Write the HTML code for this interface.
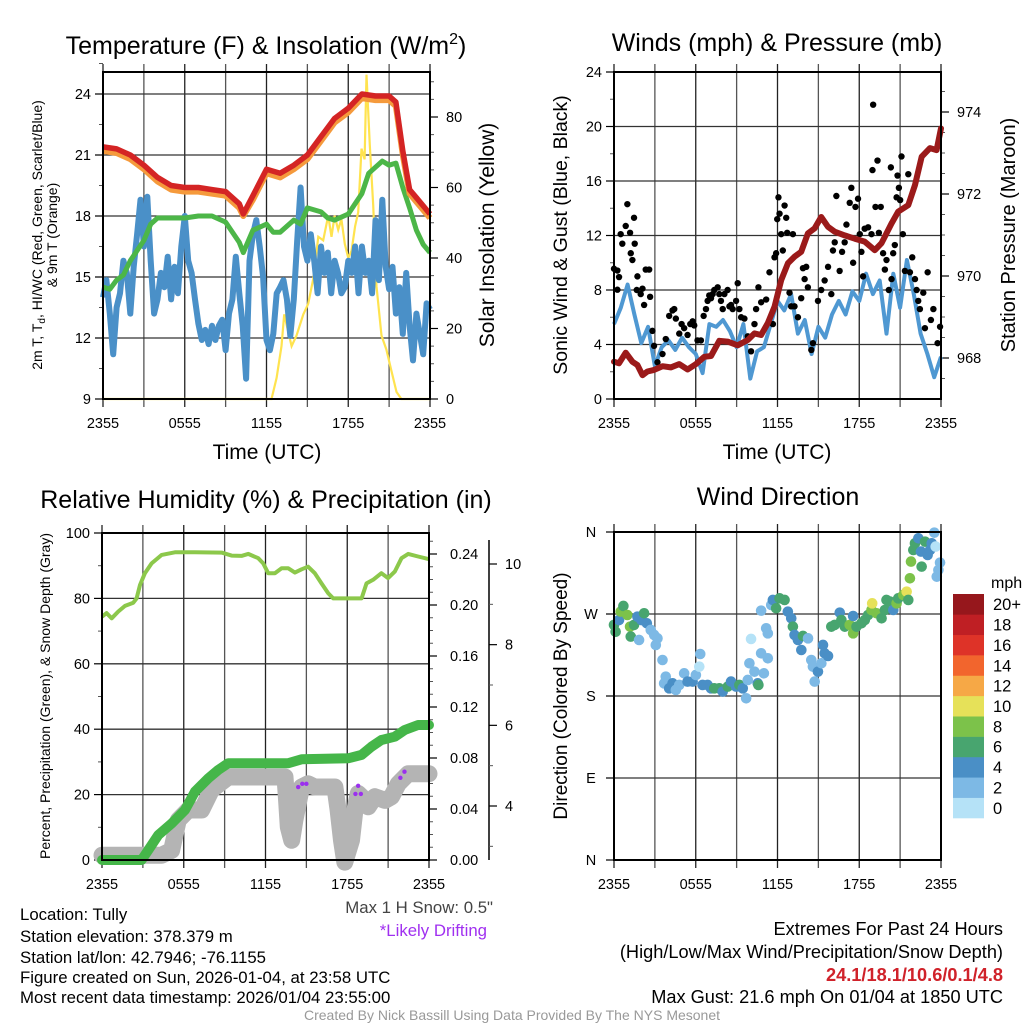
<!DOCTYPE html>
<html><head><meta charset="utf-8"><style>
html,body{margin:0;padding:0;background:#fff;}
svg{display:block;font-family:"Liberation Sans",Arial,sans-serif;}
</style></head><body>
<svg id="fig" width="1024" height="1024" viewBox="0 0 1024 1024" xmlns="http://www.w3.org/2000/svg">
<rect x="0" y="0" width="1024" height="1024" fill="#fff"/>
<!-- Titles -->
<text x="266" y="54" font-size="25" text-anchor="middle">Temperature (F) &amp; Insolation (W/m<tspan font-size="16" dy="-10">2</tspan><tspan dy="10">)</tspan></text>
<text x="777" y="51" font-size="25" text-anchor="middle">Winds (mph) &amp; Pressure (mb)</text>
<text x="266" y="508" font-size="25" text-anchor="middle">Relative Humidity (%) &amp; Precipitation (in)</text>
<text x="778" y="505" font-size="25" text-anchor="middle">Wind Direction</text>
<!-- axis titles -->
<text x="267" y="459" font-size="21" text-anchor="middle">Time (UTC)</text>
<text x="777" y="459" font-size="21" text-anchor="middle">Time (UTC)</text>
<text transform="translate(42,235) rotate(-90)" font-size="14" text-anchor="middle">2m T, T<tspan font-size="10" dy="3">d</tspan><tspan dy="-3">, HI/WC (Red, Green, Scarlet/Blue)</tspan></text>
<text transform="translate(57,235) rotate(-90)" font-size="14" text-anchor="middle">&amp; 9m T (Orange)</text>
<text transform="translate(494,235) rotate(-90)" font-size="21" text-anchor="middle">Solar Insolation (Yellow)</text>
<text transform="translate(567,235) rotate(-90)" font-size="19.5" text-anchor="middle">Sonic Wind &amp; Gust (Blue, Black)</text>
<text transform="translate(1015,235) rotate(-90)" font-size="20" text-anchor="middle">Station Pressure (Maroon)</text>
<text transform="translate(50,696) rotate(-90)" font-size="14" text-anchor="middle">Percent, Precipitation (Green), &amp; Snow Depth (Gray)</text>
<text transform="translate(567,696) rotate(-90)" font-size="19" text-anchor="middle">Direction (Colored By Speed)</text>
<!-- footer texts -->
<g font-size="16.8" fill="#000">
<text x="20" y="920">Location: Tully</text>
<text x="20" y="942">Station elevation: 378.379 m</text>
<text x="20" y="963">Station lat/lon: 42.7946; -76.1155</text>
<text x="20" y="983">Figure created on Sun, 2026-01-04, at 23:58 UTC</text>
<text x="20" y="1003">Most recent data timestamp: 2026/01/04 23:55:00</text>
<text x="493" y="913" text-anchor="end" fill="#444">Max 1 H Snow: 0.5"</text>
<text x="487" y="936" text-anchor="end" fill="#a030f0">*Likely Drifting</text>
</g>
<g font-size="18.2" fill="#000">
<text x="1003" y="935" text-anchor="end">Extremes For Past 24 Hours</text>
<text x="1003" y="958" text-anchor="end">(High/Low/Max Wind/Precipitation/Snow Depth)</text>
<text x="1003" y="981" text-anchor="end" fill="#d0222a" font-weight="bold">24.1/18.1/10.6/0.1/4.8</text>
<text x="1003" y="1003" text-anchor="end">Max Gust: 21.6 mph On 01/04 at 1850 UTC</text>
</g>
<text x="512" y="1020" font-size="14" text-anchor="middle" fill="#999">Created By Nick Bassill Using Data Provided By The NYS Mesonet</text>
<g id="layer"></g>
</svg>
<script>
// ---------- Panel 1 data ----------
const tHours = [0,1,2,3,4,5,6,7,8,9,10,10.3,11,12,13,14,15,16,17,18,19,20,21,21.5,22,22.5,23,24];
const tempT = [21.4,21.3,21.0,20.5,19.9,19.5,19.4,19.4,19.3,19.2,18.6,18.1,19.0,20.3,20.1,20.5,21.0,21.9,22.8,23.3,24.0,23.9,23.9,23.6,21.2,19.3,18.9,18.1];
const temp9m = [21.2,21.1,20.8,20.3,19.7,19.3,19.2,19.2,19.1,19.0,18.4,18.0,18.8,20.1,19.9,20.3,20.8,21.7,22.6,23.1,23.8,23.7,23.7,23.4,21.0,19.1,18.7,17.9];
const tdHours = [0,0.5,1,1.5,2,3,3.5,4,5,6,7,8,9,10,10.3,11,12,12.5,13,14,14.5,15,16,16.5,17,18,18.5,19,19.5,20,20.5,21,21.5,22,22.5,23,23.5,24];
const tempTd = [14.5,14.4,14.85,15.1,15.8,16.8,17.6,17.9,17.9,17.9,18.0,18.0,17.7,16.7,16.2,17.3,17.6,17.2,17.2,17.8,17.6,18.4,18.2,17.9,17.8,18.1,18.6,19.1,20.1,20.4,20.7,20.5,20.6,19.4,18.4,17.3,16.6,16.2];
const tempWC = [14.0,14.85,13.2,11.2,13.5,14.2,15.8,15.2,13.2,15.5,17.1,18.8,16.5,18.95,15.8,13.2,13.9,15.2,14.5,16.0,13.9,15.5,14.2,16.5,18.0,15.8,15.2,13.9,12.7,11.9,12.4,11.7,12.6,11.9,12.6,12.9,11.4,13.2,13.9,16.0,14.2,12.6,10.0,15.8,17.1,17.8,16.5,15.0,11.9,11.4,12.2,14.2,14.5,14.85,13.9,12.1,13.9,16.8,19.4,16.5,15.8,17.1,15.8,14.2,16.5,15.2,16.2,14.2,15.8,15.2,14.2,14.5,15.8,15.2,16.5,14.2,16.5,15.2,15.8,14.2,17.8,14.85,18.8,15.5,14.4,15.5,13.2,14.5,12.2,15.2,12.6,10.9,13.2,12.2,11.2,13.7,13.4];
const solarHours = [0,12.37,12.74,13.1,13.3,13.6,13.84,14.2,14.7,15.06,15.43,15.8,16.16,16.53,16.77,17.0,17.26,17.5,17.75,18.0,18.24,18.5,18.73,18.97,19.2,19.34,19.58,19.83,20.07,20.44,20.8,21.17,21.54,21.9,24];
const solarVals = [0,0,6,15,24,19,15,18,24,27,34,46,45,52,46,52,48,51,44,40,42,49,53,71,68,92,72,55,32,18,14,8,2,0,0];
const xTickHours = [0,6,12,18,24];
const xTickLabels = ["2355","0555","1155","1755","2355"];
const tempTicks = [9,12,15,18,21,24];
const solarTicks = [0,20,40,60,80];
// ---------- Panel 2 data ----------
const presHours = [0,0.37,0.86,1.35,1.72,2.09,2.45,2.94,3.56,4.17,4.79,5.4,6.01,6.63,7.12,7.73,8.34,9.08,9.82,10.31,10.8,11.29,11.78,12.27,12.76,13.25,13.74,14.23,14.72,15.21,15.71,16.2,16.93,17.67,18.4,19.14,19.63,20.37,20.86,21.6,22.09,22.58,23.19,23.68,24];
const presVals = [967.91,967.87,968.13,967.91,967.83,967.58,967.67,967.71,967.80,967.77,967.85,967.72,967.85,968.03,968.05,968.42,968.40,968.31,968.44,968.60,968.56,968.85,969.25,969.90,970.31,970.47,970.59,971.04,971.16,971.44,971.20,971.08,970.99,970.91,970.84,970.63,970.80,971.28,971.57,971.73,972.22,972.91,973.12,973.07,973.60];
const windVals = [5.5,6.7,8.4,6.2,4.1,5.3,2.4,3.8,4.3,3.6,4.5,3.8,3.3,1.9,5.5,5.3,5.8,5.0,3.8,5.5,1.5,3.5,3.8,5.5,7.2,6.5,7.7,4.8,5.8,3.3,5.3,4.5,6.2,7.2,6.2,7.9,7.2,9.2,7.7,8.7,4.8,9.2,6.7,10.2,7.7,4.8,3.3,1.6,3.1];
const gustHours = [0,0.25,0.37,0.25,0.49,0.61,0.86,0.98,1.18,1.23,1.35,1.47,1.52,1.72,1.67,1.96,2.09,2.21,2.33,2.58,2.65,2.82,2.94,3.19,3.56,3.8,4.05,4.29,4.42,4.54,4.79,4.96,5.15,5.4,5.6,5.77,5.89,6.13,6.38,6.58,6.75,6.87,6.99,7.12,7.24,7.36,7.61,7.73,7.85,7.98,8.1,8.34,8.47,8.59,8.71,8.96,9.08,9.2,9.33,9.57,9.82,10.06,10.31,10.43,10.6,10.8,11.17,11.41,11.66,11.78,11.9,11.98,12.07,12.15,12.27,12.39,12.52,12.64,12.71,12.88,13.0,13.13,13.25,13.5,13.74,13.87,13.99,14.11,14.23,14.48,14.6,14.97,15.21,15.46,15.71,15.95,16.07,16.2,16.32,16.56,16.74,16.93,17.06,17.3,17.42,17.55,17.72,17.91,18.04,18.16,18.28,18.4,18.65,18.9,18.97,19.02,19.19,19.34,19.44,19.58,19.75,19.88,20.0,20.17,20.32,20.37,20.49,20.61,20.74,20.81,20.91,21.0,21.1,21.2,21.35,21.6,21.72,21.89,22.09,22.21,22.33,22.45,22.7,22.82,23.02,23.26,23.44,23.75,23.93];
const gustVals = [9.56,9.43,8.95,8.02,12.1,11.4,12.7,14.3,12.2,10.7,10.2,13.3,11.4,9.0,8.0,7.7,8.1,6.9,9.5,9.5,7.5,5.0,3.9,2.7,3.3,4.4,6.1,6.5,6.6,5.9,4.8,5.5,5.2,4.7,5.5,5.7,5.4,4.3,4.3,6.1,6.6,7.2,7.6,7.4,7.7,8.0,8.2,7.7,7.2,6.6,7.7,8.0,6.8,6.9,6.6,7.2,8.5,6.6,6.0,5.9,4.6,3.5,5.5,6.6,8.2,7.1,7.3,9.3,5.5,10.4,10.7,13.2,14.8,13.6,12.1,10.9,14.2,13.3,12.2,7.8,6.8,12.1,6.8,6.0,7.4,9.6,8.8,9.7,8.2,3.6,4.1,7.2,8.0,8.7,9.7,7.7,10.9,11.5,14.9,9.4,10.8,11.5,12.8,14.4,15.5,10.0,14.1,14.7,12.1,10.8,9.0,12.5,12.6,12.1,16.8,21.6,14.1,17.5,12.2,14.1,10.7,9.5,10.2,8.0,17.0,8.8,10.7,11.3,14.8,16.4,15.5,14.6,17.8,12.1,9.4,16.5,9.3,10.4,8.8,8.0,7.2,6.6,7.8,5.2,9.3,5.8,6.6,4.1,5.3];
const windTicks = [0,4,8,12,16,20,24];
const presTicks = [968,970,972,974];
// ---------- Panel 3 data ----------
const rhHours = [0,0.34,0.71,1.2,1.69,2.3,2.54,2.79,3.15,3.64,4.38,5.35,6.82,8.78,9.51,10.24,10.73,11.47,11.83,12.2,12.69,13.18,13.67,14.16,14.65,15.13,15.62,16.11,16.6,16.97,18.07,19.05,19.41,19.9,20.51,21.0,21.49,21.98,22.47,23.2,24];
const rhVals = [74.4,75.5,73.9,76.0,77.7,78.7,80.0,84.1,87.7,90.7,93.3,94.1,94.1,94.0,93.1,93.0,93.6,92.3,90.7,87.7,87.7,89.2,89.2,87.9,88.9,89.7,87.7,84.6,81.6,80.0,80.0,80.0,84.6,85.7,87.7,86.2,88.2,92.3,93.6,92.8,92.0];
const precipHours = [0,2.91,3.4,4.13,5.11,6.09,6.82,7.8,8.53,9.27,13.67,14.65,18.07,19.05,19.78,20.51,21.49,22.22,23.2,24];
const precipVals = [0,0,0.0078,0.0196,0.0286,0.0392,0.0536,0.0641,0.0706,0.0759,0.0759,0.0790,0.0798,0.0824,0.0889,0.0941,0.0967,0.1020,0.1059,0.1059];
const snowHours = [0,4.38,5.11,5.6,6.33,7.31,8.04,9.27,13.43,13.55,13.67,13.92,14.16,14.4,14.65,15.13,15.62,17.09,17.33,17.58,17.82,18.31,18.56,18.8,19.05,19.54,20.02,20.76,21.25,21.74,22.47,24];
const snowVals = [2.78,2.78,2.9,3.65,3.9,3.9,4.4,4.72,4.72,4.14,3.48,3.15,3.65,4.06,4.47,4.55,4.47,4.47,3.9,3.15,2.61,3.15,3.9,4.31,4.23,3.98,4.23,4.14,4.23,4.55,4.8,4.8];
const driftHours = [14.4,14.7,15.0,18.6,18.8,19.0,21.9,22.2];
const driftVals = [4.47,4.55,4.55,4.3,4.5,4.3,4.7,4.85];
const rhTicks = [0,20,40,60,80,100];
const precipTicks = [0,0.04,0.08,0.12,0.16,0.20,0.24];
const snowTicks = [4,6,8,10];
// ---------- Panel 4 data ----------
const dirHours = [0,0.12,0.37,0.49,0.69,0.98,1.18,1.23,1.47,1.72,1.84,2.01,2.21,2.41,2.7,2.95,3.19,3.07,3.56,3.8,3.68,4.05,4.3,4.54,4.79,5.15,5.4,5.77,6.01,6.26,6.33,6.5,6.87,7.12,7.36,7.73,7.98,8.35,8.59,8.96,9.2,9.45,9.7,9.82,9.94,10.06,10.31,10.55,10.6,10.8,11.0,11.29,11.17,11.29,10.8,11.54,11.66,11.9,12.15,12.52,12.76,13.01,13.13,13.25,13.5,13.75,13.87,14.24,14.48,14.6,14.73,14.97,15.22,15.34,15.46,15.71,15.95,16.2,16.57,16.69,16.94,17.3,17.55,17.55,17.8,18.16,18.41,18.65,18.9,18.95,19.27,19.64,19.88,20.0,20.25,20.5,20.74,20.86,21.23,21.48,21.6,21.72,21.8,21.97,22.09,22.34,22.53,22.58,22.83,23.02,23.2,23.32,23.51,23.61,23.81,23.69,23.93];
const dirVals = [258,250.5,263.4,272.6,278.8,268.9,256.1,245.2,258,267.1,241.5,263.4,270.8,259.8,252.5,247,243.3,236,219.5,201.2,193.9,188.4,193.9,186.6,192.1,204.9,195.8,195.8,203.1,212.2,226.1,192.1,192.1,188.4,188.4,188.4,184.8,190.3,195.8,190.3,192.1,188.4,177.5,197.6,215.9,242.6,206.7,193.9,192.1,226.9,204.9,221.4,254.3,248.8,273.7,279.9,285.4,276.3,287.2,285.4,272.6,265.3,256.1,247,241.5,230.5,245.9,243.3,219.5,212.2,195.8,206.7,215.9,236,226.9,223.9,256.1,258,271.5,263.4,256.1,258,248.8,267.8,256.1,259.8,263.4,268.9,274.4,281.7,270.8,265.3,274.4,285.4,283.6,274.4,281.7,287.2,290.9,294.5,285.4,309.2,327.5,340.3,347.6,353.1,338.5,322,349.4,334.8,340.3,347.6,359.3,344,318.3,311,326.4];
const dirSpeeds = [7,7,5,8,7,8,9,7,6,5,3,5,7,5,3,3,3,3,3,3,3,5,5,3,3,3,5,5,3,1,3,5,5,5,7,7,5,7,5,5,7,5,3,3,3,1,3,5,7,3,3,3,3,3,3,3,5,7,7,7,5,5,7,5,5,5,7,3,3,3,3,5,3,5,5,5,7,7,5,7,7,9,9,5,7,7,7,7,9,11,9,7,7,7,7,5,9,7,9,11,7,9,9,7,7,5,5,7,7,5,5,5,3,1,3,3,3];
const dirTicks = [0,90,180,270,360];
const dirLabels = ["N","E","S","W","N"];
const cbLabels = ["0","2","4","6","8","10","12","14","16","18","20+"];
const cbColors = ["#b5e2f7","#7db9e5","#4a8fc6","#48a56f","#7cc24a","#e6e159","#f6a846","#f2652d","#de3328","#bf1f24","#96171c"];

const NS = "http://www.w3.org/2000/svg";
const layer = document.getElementById("layer");
function mk(tag, attrs, parent) {
  const el = document.createElementNS(NS, tag);
  for (const k in attrs) el.setAttribute(k, attrs[k]);
  (parent || layer).appendChild(el);
  return el;
}
function scale(d0, d1, r0, r1) { return v => r0 + (v - d0) * (r1 - r0) / (d1 - d0); }
function pathFrom(xs, ys, sx, sy) {
  let d = "";
  for (let i = 0; i < xs.length; i++) d += (i ? "L" : "M") + sx(xs[i]).toFixed(1) + "," + sy(ys[i]).toFixed(1);
  return d;
}
function evenHours(n) { const a = []; for (let i = 0; i < n; i++) a.push(i * 24 / (n - 1)); return a; }
function txt(x, y, s, size, anchor, parent) {
  const t = mk("text", {x: x, y: y, "font-size": size, "text-anchor": anchor || "middle"}, parent);
  t.textContent = s;
  return t;
}

function frame(name, L, R, T, B, sx) {
  const g = mk("g", {});
  
  
  for (let h = 0; h <= 24; h += 3) {
    const x = sx(h);
    const ln = mk("line", {x1: x, y1: T - 8, x2: x, y2: B + 8, stroke: h % 6 === 0 ? "#222" : "#555", "stroke-width": 1.3}, g);
    
    
  }
  return g;
}
function border(name, L, R, T, B) {
  const r = mk("rect", {x: L, y: T, width: R - L, height: B - T, fill: "none", stroke: "#000", "stroke-width": 2});
  
  
}
function hgrid(name, L, R, ys) {
  ys.forEach(y => {
    const ln = mk("line", {x1: L, y1: y, x2: R, y2: y, stroke: "#333", "stroke-width": 1.3});
    
    
  });
}
function xLabels(name, sx, B) {
  xTickHours.forEach((h, i) => {
    const t = txt(sx(h), B + 29, xTickLabels[i], 14.5, "middle");
    
    
  });
}
function yAxisTicks(x, ticks, minors, sy, dir, labelFmt, name, labelOffset) {
  ticks.forEach(v => {
    const y = sy(v);
    mk("line", {x1: x, y1: y, x2: x + dir * 8, y2: y, stroke: "#000", "stroke-width": 1.2});
    const t = txt(x + dir * (labelOffset || 12), y + 5, labelFmt(v), 14.5, dir < 0 ? "end" : "start");
    
    
  });
  minors.forEach(v => {
    const y = sy(v);
    mk("line", {x1: x, y1: y, x2: x + dir * 4, y2: y, stroke: "#555", "stroke-width": 1});
  });
}
function range(a, b, s) { const r = []; for (let v = a; v <= b + 1e-9; v += s) r.push(+v.toFixed(4)); return r; }

// ===== Panel 1 =====
(function () {
  const L = 103, R = 430, T = 72, B = 399;
  const sx = scale(0, 24, L, R);
  const sy = scale(9, 24, 399, 94);
  const sy2 = scale(0, 80, 399, 117);
  frame("temp", L, R, T, B, sx);
  hgrid("temp", L, R, tempTicks.slice(1).map(sy));
  yAxisTicks(L, tempTicks, range(10.5, 25.5, 3), sy, -1, v => String(v), "temp-y", 12);
  yAxisTicks(R, solarTicks, range(5, 90, 5).filter(v => v % 20), sy2, 1, v => String(v), "solar-y", 16);
  xLabels("temp", sx, B);
  let p;
  p = mk("path", {d: pathFrom(solarHours, solarVals, sx, sy2), fill: "none", stroke: "#ffe34f", "stroke-width": 2.2});
  
  
  p = mk("path", {d: pathFrom(evenHours(tempWC.length), tempWC, sx, sy), fill: "none", stroke: "#4a90c8", "stroke-width": 6, "stroke-linejoin": "round"});
  
  
  p = mk("path", {d: pathFrom(tdHours, tempTd, sx, sy), fill: "none", stroke: "#4cb648", "stroke-width": 5, "stroke-linejoin": "round"});
  
  
  p = mk("path", {d: pathFrom(tHours, temp9m, sx, sy), fill: "none", stroke: "#f59a3c", "stroke-width": 6, "stroke-linejoin": "round"});
  
  
  p = mk("path", {d: pathFrom(tHours, tempT, sx, sy), fill: "none", stroke: "#d42424", "stroke-width": 5.5, "stroke-linejoin": "round"});
  
  
  border("temp", L, R, T, B);
})();

// ===== Panel 2 =====
(function () {
  const L = 614, R = 941, T = 72, B = 399;
  const sx = scale(0, 24, L, R);
  const sy = scale(0, 24, 399, 72);
  const sy2 = scale(968, 974, 358, 112);
  frame("winds", L, R, T, B, sx);
  hgrid("winds", L, R, windTicks.slice(1, -1).map(sy));
  yAxisTicks(L, windTicks, range(2, 22, 4), sy, -1, v => String(v), "wind-y", 12);
  yAxisTicks(R, presTicks, range(967.5, 975, 0.5).filter(v => v % 2 && sy2(v) > T && sy2(v) < B), sy2, 1, v => String(v), "pressure-y", 16);
  xLabels("winds", sx, B);
  let p = mk("path", {d: pathFrom(evenHours(windVals.length), windVals, sx, sy), fill: "none", stroke: "#4f98d2", "stroke-width": 4, "stroke-linejoin": "round"});
  
  
  const g = mk("g", {fill: "#000"});
  
  
  gustHours.forEach((h, i) => {
    const c = mk("circle", {cx: sx(h), cy: sy(gustVals[i]), r: 3.2}, g);
    
    
  });
  p = mk("path", {d: pathFrom(presHours, presVals, sx, sy2), fill: "none", stroke: "#9b1a1a", "stroke-width": 6, "stroke-linejoin": "round", "stroke-linecap": "round"});
  
  
  border("winds", L, R, T, B);
})();

// ===== Panel 3 =====
(function () {
  const L = 102, R = 429, T = 533, B = 860;
  const sx = scale(0, 24, L, R);
  const sy = scale(0, 100, 860, 533);
  const sy2 = scale(0, 0.24, 860, 554);
  const sy3 = scale(4, 10, 806, 564);
  frame("rh", L, R, T, B, sx);
  hgrid("rh", L, R, rhTicks.slice(1, -1).map(sy));
  yAxisTicks(L, rhTicks, range(10, 90, 20), sy, -1, v => String(v), "rh-y", 12);
  yAxisTicks(R, precipTicks, range(0.01, 0.26, 0.01).filter(v => Math.round(v * 100) % 4 && sy2(v) > T), sy2, 1, v => v.toFixed(2), "precip-y", 21);
  const ax = 489;
  mk("line", {x1: ax, y1: 540, x2: ax, y2: 860, stroke: "#000", "stroke-width": 1.5});
  yAxisTicks(ax, snowTicks, [3, 5, 7, 9, 11].filter(v => sy3(v) > 540 && sy3(v) < 860), sy3, 1, v => String(v), "snow-y", 16);
  xLabels("rh", sx, B);
  let p = mk("path", {d: pathFrom(snowHours, snowVals, sx, sy3), fill: "none", stroke: "#b4b4b4", "stroke-width": 17, "stroke-linejoin": "round", "stroke-linecap": "round"});
  
  
  for (let i = 0; i < driftHours.length; i += 1) {
    const c = mk("circle", {cx: sx(driftHours[i]), cy: sy3(driftVals[i]), r: 2.2, fill: "#9b30ee"});
    
    
  }
  p = mk("path", {d: pathFrom(precipHours, precipVals, sx, sy2), fill: "none", stroke: "#45b649", "stroke-width": 10, "stroke-linejoin": "round", "stroke-linecap": "round"});
  
  
  p = mk("path", {d: pathFrom(rhHours, rhVals, sx, sy), fill: "none", stroke: "#8cc84b", "stroke-width": 4, "stroke-linejoin": "round"});
  
  
  border("rh", L, R, T, B);
})();

// ===== Panel 4 =====
(function () {
  const L = 614, R = 941, T = 532, B = 860;
  const sx = scale(0, 24, L, R);
  const sy = scale(0, 360, 860, 532);
  frame("direction", L, R, T, B, sx);
  hgrid("direction", L, R, dirTicks.slice(1, -1).map(sy));
  dirTicks.forEach((v, i) => {
    mk("line", {x1: L, y1: sy(v), x2: L - 8, y2: sy(v), stroke: "#000", "stroke-width": 1.2});
    const t = txt(591, sy(v) + 5, dirLabels[i], 14.5, "middle");
    
    
  });
  xLabels("direction", sx, B);
  const g = mk("g", {});
  
  
  dirHours.forEach((h, i) => {
    const idx = Math.min(10, Math.floor(dirSpeeds[i] / 2));
    const c = mk("circle", {cx: sx(h), cy: sy(dirVals[i]), r: 5.3, fill: cbColors[idx]}, g);
    
    
  });
  border("direction", L, R, T, B);
  // colorbar
  const cb = mk("g", {});
  
  
  const bh = (818 - 594) / 11;
  cbColors.forEach((c, i) => {
    const y = 818 - (i + 1) * bh;
    const r = mk("rect", {x: 953, y: y, width: 31, height: bh + 0.3, fill: c}, cb);
    
    
    const t = txt(993, y + bh / 2 + 6, cbLabels[i], 16.5, "start", cb);
    
    
  });
  const u = txt(991, 588, "mph", 16, "start", cb);
  
  
})();
</script>
</body></html>
